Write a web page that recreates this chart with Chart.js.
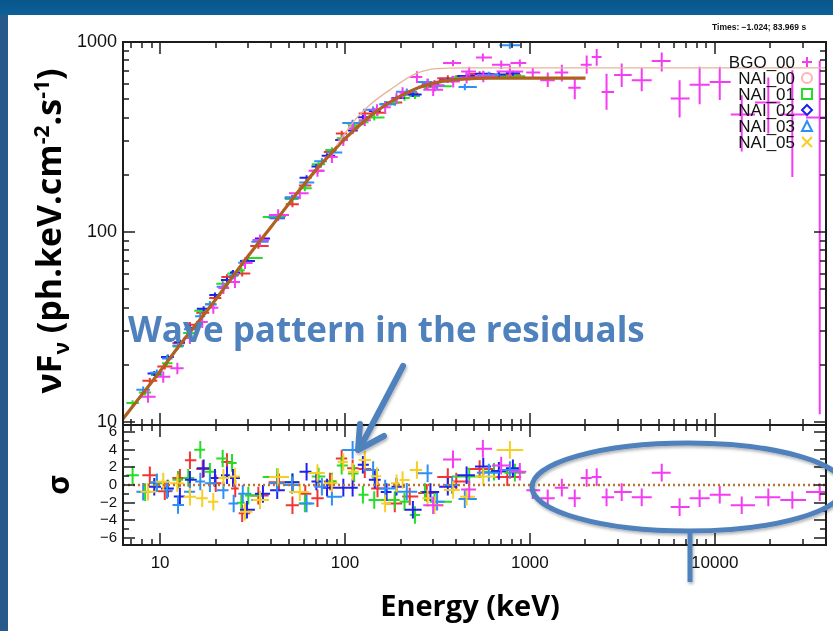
<!DOCTYPE html>
<html>
<head>
<meta charset="utf-8">
<script src="https://cdn.jsdelivr.net/npm/chart.js@4.4.1/dist/chart.umd.min.js"></script>
<style>
  html, body { margin: 0; padding: 0; }
  body { width: 833px; height: 631px; position: relative; overflow: hidden; background: #27598a; }
  #topbar { position: absolute; left: 0; top: 0; width: 833px; height: 15px; background: linear-gradient(#08568c, #0e6099); }
  #sheet { position: absolute; left: 8px; top: 15px; width: 825px; height: 616px; background: #fff; }
  canvas { position: absolute; left: 0; top: 0; }
  .slide { position: absolute; font-family: "Open Sans", Lato, sans-serif; font-weight: bold; white-space: nowrap; line-height: 1; color: #000; }
  .slide sub, .slide sup { font-size: 0.62em; line-height: 0; }
  #ytitle { left: 48px; top: 231px; font-size: 34px; transform: translate(-50%, -50%) rotate(-90deg); }
  #sigma { left: 58px; top: 485px; font-size: 30px; transform: translate(-50%, -50%) rotate(-90deg); }
  #xtitle { left: 470px; top: 590px; font-size: 29px; transform: translateX(-50%); }
  #wave { left: 128px; top: 311px; font-size: 35px; color: #4f81bd; }
  #times { position: absolute; left: 712px; top: 22px; font: bold 8.5px "Liberation Sans", Arial, sans-serif; color: #111; white-space: nowrap; }
  svg { position: absolute; left: 0; top: 0; }
</style>
</head>
<body>
<div id="topbar"></div>
<div id="sheet"></div>
<canvas id="residuals" width="833" height="631"></canvas>
<canvas id="spectrum" width="833" height="631"></canvas>
<div id="times">Times: −1.024; 83.969 s</div>
<div class="slide" id="ytitle">νF<sub>ν</sub> (ph.keV.cm<sup>-2</sup>.s<sup>-1</sup>)</div>
<div class="slide" id="sigma">σ</div>
<div class="slide" id="xtitle">Energy (keV)</div>
<div class="slide" id="wave">Wave pattern in the residuals</div>
<svg width="833" height="631">
  <defs>
    <filter id="soft" x="-20%" y="-20%" width="140%" height="140%">
      <feDropShadow dx="1" dy="2" stdDeviation="1.5" flood-opacity="0.3"/>
    </filter>
  </defs>
  <g stroke="#4f81bd" fill="none" stroke-linecap="round" stroke-linejoin="round" filter="url(#soft)">
    <line x1="403" y1="366" x2="362" y2="444" stroke-width="6"/>
    <polyline points="360,424 358,450 384,436" stroke-width="6"/>
    <ellipse cx="688" cy="487" rx="156" ry="44" stroke-width="5"/>
    <line x1="690" y1="531" x2="690" y2="582" stroke-width="5" stroke-linecap="butt"/>
  </g>
</svg>
<script>
const ENERGY_MIN = 6.3, ENERGY_MAX = 40000;

const fluxTicks = [10, 100, 1000];
const residTicks = [-6, -4, -2, 0, 2, 4, 6];
const energyTicks = [10, 100, 1000, 10000];

// best-fit model (keV, ph.keV.cm-2.s-1)
const modelEnergy = [6.2, 8, 10, 13, 17, 22, 30, 40, 55, 70, 85, 100, 120, 145, 175, 215, 270, 340, 450, 600, 2000];
const modelFlux = [10.2, 14, 18.5, 26, 36, 50, 75, 107, 160, 213, 262, 310, 365, 425, 482, 540, 590, 622, 640, 645, 645];
// second model, the one that keeps going up to the BGO range
const altEnergy = [90, 113, 136, 175, 240, 314, 450, 40000];
const altFlux = [285, 388, 466, 560, 680, 725, 730, 730];

// NaI detectors: channel centres, vFv, residuals in sigma
const nai00Energy = [8.8, 10.6, 12.8, 14.5, 17, 20, 23, 25.5, 27.8, 34, 44, 52, 61, 71, 83, 96, 110, 128, 150, 186, 224, 277, 360, 400, 535, 755];
const nai00Flux = [16.5, 19.6, 26.0, 32.5, 37.6, 45.0, 58.0, 59.5, 60.5, 84.5, 121, 140, 176, 210, 264, 330, 372, 420, 424, 480, 535, 582, 645, 645, 678, 668];
const nai00Resid = [1.1, -0.7, 0.8, 2.8, 1.8, 0.2, 2.6, -0.4, -3.2, -1.2, 0.3, -2.3, -1.0, -1.5, 0.4, 3.0, 1.9, 1.8, -0.4, -2.1, -1.3, -0.9, 0.9, 0.4, 1.8, 0.9];

const nai01Energy = [7.1, 8.3, 9.6, 10.9, 12.5, 14.2, 16.5, 18.6, 21.8, 24.5, 27.5, 30, 43, 52, 60.7, 72, 85, 96, 112, 125, 144, 186, 210, 239, 271, 305, 470, 640, 830];
const nai01Flux = [12.6, 14.3, 17.7, 20.4, 25.0, 29.4, 38.5, 41.8, 53.5, 60.5, 63.0, 73.0, 120, 149, 170, 227, 270, 312, 362, 378, 400, 480, 508, 520, 583, 585, 652, 662, 660];
const nai01Resid = [1.1, -0.8, 0.2, -0.5, 0.6, 0.8, 4.0, 1.5, 3.0, 2.5, -2.0, -1.2, 0.9, 0.3, -2.1, 0.95, 0.4, 2.2, 1.3, -1.1, -1.7, -1.7, -1.9, -3.4, -0.8, -1.9, 0.95, 1.5, 1.4];

const nai02Energy = [9.3, 11, 12.8, 14.5, 17.2, 19.8, 23, 24.8, 29.5, 36, 43, 52, 62, 70, 80, 98, 110, 125, 145, 168, 190, 233, 290, 360, 455, 560, 680, 810];
const nai02Flux = [18.0, 22.0, 26.3, 31.4, 39.5, 46.6, 56.0, 61.2, 70.5, 92.5, 118, 152, 193, 221, 252, 305, 342, 402, 434, 470, 508, 530, 600, 630, 662, 680, 675, 685];
const nai02Resid = [-0.2, -0.4, -1.3, 0.6, 1.9, 0.8, 1.1, 0.8, -2.8, -1.0, -0.6, 0.3, 1.5, 0.4, -0.3, -0.3, -0.3, 2.3, 0.6, -0.8, -0.2, -2.8, -0.8, -0.2, 1.1, 2.1, 1.6, 1.9];

const nai03Energy = [8.1, 9.6, 10.9, 12.5, 14.5, 16.5, 18.6, 22, 25, 28, 34.7, 43, 51.7, 62, 75, 85, 110, 142, 165, 216, 280, 315, 380, 445, 600, 780];
const nai03Flux = [14.8, 18.2, 21.6, 25.2, 30.8, 36.0, 41.6, 51.5, 58.8, 69.0, 89.0, 119, 151, 182, 236, 262, 375, 440, 470, 548, 615, 590, 633, 580, 670, 960];
const nai03Resid = [-0.76, 0.3, -0.57, -2.27, -0.76, 0.4, 0.2, -0.6, -2.1, -1.0, -1.7, 0.2, 0.0, -2.1, -0.2, -1.33, 3.98, 1.7, -0.4, -0.76, 1.33, -1.9, 0.0, -1.6, 1.4, 1.7];

const nai05Energy = [8.6, 10.4, 12.4, 14.5, 16.9, 19.4, 22, 25.4, 28.8, 34.7, 43.5, 57, 71, 85, 98, 110, 128, 149, 165, 190, 205, 245, 280, 305, 385, 455, 560, 780];
const nai05Flux = [13.6, 17.3, 19.2, 27.7, 33.6, 40.0, 50.7, 54.6, 68.7, 90.8, 123, 160, 210, 248, 305, 352, 388, 440, 453, 505, 540, 655, 600, 590, 620, 650, 660, 700];
const nai05Resid = [-0.76, 0.38, 0.2, -1.33, -1.5, -1.9, 0.8, 0.95, -3.03, -1.7, 0.9, -0.8, 1.36, 0.2, 2.6, 1.5, 2.84, 1.0, -2.1, 0.2, 0.57, 1.7, -1.5, -2.3, -0.57, -1.33, 0.95, 3.98];

// BGO detector, with its own (asymmetric) flux errors
const bgoEnergy = [300, 384, 470, 557, 700, 883, 1037, 1250, 1490, 1750, 2030, 2300, 2600, 3140, 4030, 5170, 6460, 8290, 10650, 14000, 19500, 26300, 37000];
const bgoFlux = [560, 775, 700, 830, 760, 775, 690, 630, 690, 575, 760, 835, 545, 670, 630, 795, 505, 595, 615, 415, 480, 415, 400];
const bgoFluxLo = [520, 745, 660, 790, 720, 740, 650, 580, 620, 500, 680, 750, 440, 580, 550, 700, 400, 470, 495, 265, 330, 195, 11];
const bgoFluxHi = [600, 805, 740, 870, 800, 810, 730, 690, 760, 650, 850, 920, 680, 770, 730, 880, 630, 740, 740, 525, 650, 710, 800];
const bgoResid = [-2.3, 2.9, -0.5, 4.1, 2.2, 1.5, -0.6, -1.5, -0.3, -1.5, 0.8, 0.9, -1.4, -0.8, -1.4, 1.4, -2.5, -1.5, -1.1, -2.3, -1.4, -1.7, -0.8];

const MAGENTA = '#f43cf4', RED = '#f23434', GREEN = '#27dc27', BLUE = '#2121ee', SKY = '#2f8ff5', GOLD = '#f6cf22';

const detectors = [
  { energy: nai00Energy, flux: nai00Flux, resid: nai00Resid, specColor: RED, residColor: RED, err: 0.035 },
  { energy: nai01Energy, flux: nai01Flux, resid: nai01Resid, specColor: GREEN, residColor: GREEN, err: 0.035 },
  { energy: nai02Energy, flux: nai02Flux, resid: nai02Resid, specColor: BLUE, residColor: BLUE, err: 0.03 },
  { energy: nai03Energy, flux: nai03Flux, resid: nai03Resid, specColor: SKY, residColor: SKY, err: 0.04 },
  { energy: nai05Energy, flux: nai05Flux, resid: nai05Resid, specColor: MAGENTA, residColor: GOLD, err: 0.07 }
];

const legendRows = [
  { label: 'BGO_00', color: MAGENTA, shape: 'plus' },
  { label: 'NAI_00', color: '#ffb4b4', shape: 'circle' },
  { label: 'NAI_01', color: GREEN, shape: 'square' },
  { label: 'NAI_02', color: BLUE, shape: 'diamond' },
  { label: 'NAI_03', color: SKY, shape: 'triangle' },
  { label: 'NAI_05', color: GOLD, shape: 'cross' }
];

// bin edges sit halfway (in log) between neighbouring channel centres
function binEdges(c) {
  const n = c.length;
  return c.map((e, i) => {
    const prev = i > 0 ? c[i - 1] : e * e / c[1];
    const next = i < n - 1 ? c[i + 1] : e * e / c[n - 2];
    return [Math.sqrt(prev * e), Math.sqrt(e * next)];
  });
}

function specPoints(energy, flux, lo, hi) {
  const edges = binEdges(energy);
  return energy.map((e, i) => ({ x: e, y: flux[i], xlo: edges[i][0], xhi: edges[i][1], ylo: lo[i], yhi: hi[i] }));
}

function residPoints(energy, resid) {
  const edges = binEdges(energy);
  return energy.map((e, i) => ({ x: e, y: resid[i], xlo: edges[i][0], xhi: edges[i][1], ylo: resid[i] - 1, yhi: resid[i] + 1 }));
}

function crossSet(points, color) {
  return { data: points, borderColor: color, crosses: true, pointRadius: 0, showLine: false };
}

// error-bar crosses, drawn under the model curves
const errorCrosses = {
  id: 'errorCrosses',
  beforeDatasetsDraw(chart) {
    const { ctx, chartArea: a } = chart;
    const xs = chart.scales.x, ys = chart.scales.y;
    ctx.save();
    ctx.beginPath();
    ctx.rect(a.left, a.top, a.right - a.left, a.bottom - a.top);
    ctx.clip();
    ctx.lineWidth = 2;
    chart.data.datasets.forEach(ds => {
      if (!ds.crosses) return;
      ctx.strokeStyle = ds.borderColor;
      ctx.beginPath();
      ds.data.forEach(p => {
        const cx = xs.getPixelForValue(p.x), cy = ys.getPixelForValue(p.y);
        ctx.moveTo(xs.getPixelForValue(p.xlo), cy);
        ctx.lineTo(xs.getPixelForValue(p.xhi), cy);
        ctx.moveTo(cx, ys.getPixelForValue(p.ylo));
        ctx.lineTo(cx, ys.getPixelForValue(p.yhi));
      });
      ctx.stroke();
    });
    ctx.restore();
  }
};

// box with inward ticks on all four sides
const idlFrame = {
  id: 'idlFrame',
  afterDatasetsDraw(chart) {
    const { ctx, chartArea: a } = chart;
    const xs = chart.scales.x, ys = chart.scales.y;
    ctx.save();
    ctx.strokeStyle = '#1c1c1c';
    ctx.lineWidth = 1.5;
    ctx.beginPath();
    for (let d = 0; d <= 4; d++) {
      for (let m = 1; m <= 9; m++) {
        const v = m * Math.pow(10, d);
        if (v < xs.min || v > xs.max) continue;
        const px = Math.round(xs.getPixelForValue(v));
        const len = m === 1 ? 12 : 6;
        ctx.moveTo(px, a.top); ctx.lineTo(px, a.top + len);
        ctx.moveTo(px, a.bottom); ctx.lineTo(px, a.bottom - len);
      }
    }
    const marks = [];
    if (ys.type === 'logarithmic') {
      for (let d = 0; d <= 3; d++) for (let m = 1; m <= 9; m++) marks.push([m * Math.pow(10, d), m === 1]);
    } else {
      for (let v = -6; v <= 6; v++) marks.push([v, v % 2 === 0]);
    }
    marks.forEach(([v, major]) => {
      if (v < ys.min || v > ys.max) return;
      const py = Math.round(ys.getPixelForValue(v));
      const len = major ? 12 : 6;
      ctx.moveTo(a.left, py); ctx.lineTo(a.left + len, py);
      ctx.moveTo(a.right, py); ctx.lineTo(a.right - len, py);
    });
    ctx.stroke();
    ctx.lineWidth = 2;
    ctx.strokeRect(a.left, a.top, a.right - a.left, a.bottom - a.top);
    ctx.restore();
  }
};

// detector key in the upper right corner
const detectorKey = {
  id: 'detectorKey',
  afterDraw(chart) {
    const ctx = chart.ctx;
    ctx.save();
    ctx.font = '17px "Liberation Sans", Arial, sans-serif';
    ctx.textAlign = 'right';
    ctx.textBaseline = 'middle';
    ctx.lineWidth = 2;
    legendRows.forEach((row, i) => {
      const y = 62 + i * 16, x = 807, r = 5;
      ctx.fillStyle = '#111';
      ctx.fillText(row.label, 795, y + 1);
      ctx.strokeStyle = row.color;
      ctx.beginPath();
      if (row.shape === 'plus') { ctx.moveTo(x - r, y); ctx.lineTo(x + r, y); ctx.moveTo(x, y - r); ctx.lineTo(x, y + r); }
      if (row.shape === 'circle') { ctx.arc(x, y, r, 0, Math.PI * 2); }
      if (row.shape === 'square') { ctx.rect(x - r, y - r, 2 * r, 2 * r); }
      if (row.shape === 'diamond') { ctx.moveTo(x, y - r); ctx.lineTo(x + r, y); ctx.lineTo(x, y + r); ctx.lineTo(x - r, y); ctx.closePath(); }
      if (row.shape === 'triangle') { ctx.moveTo(x, y - r); ctx.lineTo(x + r, y + r); ctx.lineTo(x - r, y + r); ctx.closePath(); }
      if (row.shape === 'cross') { ctx.moveTo(x - r, y - r); ctx.lineTo(x + r, y + r); ctx.moveTo(x + r, y - r); ctx.lineTo(x - r, y + r); }
      ctx.stroke();
    });
    ctx.restore();
  }
};

const tickFont = { family: '"Liberation Sans", Arial, sans-serif' };
const minusSign = v => String(v).replace('-', '\u2212');

const specSets = detectors.map(d => crossSet(
  specPoints(d.energy, d.flux, d.flux.map(f => f * (1 - d.err)), d.flux.map(f => f * (1 + d.err))), d.specColor));
specSets.push(crossSet(specPoints(bgoEnergy, bgoFlux, bgoFluxLo, bgoFluxHi), MAGENTA));

new Chart(document.getElementById('spectrum'), {
  type: 'scatter',
  data: {
    datasets: [
      ...specSets,
      { data: altEnergy.map((e, i) => ({ x: e, y: altFlux[i] })), showLine: true, pointRadius: 0,
        borderColor: '#e8b39a', borderWidth: 1.3, cubicInterpolationMode: 'monotone' },
      { data: modelEnergy.map((e, i) => ({ x: e, y: modelFlux[i] })), showLine: true, pointRadius: 0,
        borderColor: '#b0601f', borderWidth: 3.2, cubicInterpolationMode: 'monotone' }
    ]
  },
  options: {
    responsive: false, animation: false, events: [],
    layout: { padding: { left: 63, right: 7, top: 42, bottom: 206 } },
    plugins: { legend: { display: false }, tooltip: { enabled: false } },
    scales: {
      x: { type: 'logarithmic', display: false, min: ENERGY_MIN, max: ENERGY_MAX },
      y: {
        type: 'logarithmic', min: 9.65, max: 1000,
        afterFit: s => { s.width = 60; },
        afterBuildTicks: s => { s.ticks = fluxTicks.map(v => ({ value: v })); },
        grid: { display: false, drawTicks: false }, border: { display: false },
        ticks: { autoSkip: false, padding: 6, color: '#111', font: { ...tickFont, size: 18 }, callback: v => String(v) }
      }
    }
  },
  plugins: [errorCrosses, idlFrame, detectorKey]
});

const residSets = detectors.map(d => crossSet(residPoints(d.energy, d.resid), d.residColor));
residSets.push(crossSet(residPoints(bgoEnergy, bgoResid), MAGENTA));

new Chart(document.getElementById('residuals'), {
  type: 'scatter',
  data: {
    datasets: [
      ...residSets,
      { data: [{ x: ENERGY_MIN, y: 0 }, { x: ENERGY_MAX, y: 0 }], showLine: true, pointRadius: 0,
        borderColor: '#c0712c', borderWidth: 2.5, borderDash: [2, 3] }
    ]
  },
  options: {
    responsive: false, animation: false, events: [],
    layout: { padding: { left: 63, right: 7, top: 425, bottom: 56 } },
    plugins: { legend: { display: false }, tooltip: { enabled: false } },
    scales: {
      x: {
        type: 'logarithmic', min: ENERGY_MIN, max: ENERGY_MAX,
        afterFit: s => { s.height = 30; },
        afterBuildTicks: s => { s.ticks = energyTicks.map(v => ({ value: v })); },
        grid: { display: false, drawTicks: false }, border: { display: false },
        ticks: { autoSkip: false, maxRotation: 0, padding: 8, color: '#111', font: { ...tickFont, size: 17 }, callback: v => String(v) }
      },
      y: {
        type: 'linear', min: -6.8, max: 6.8,
        afterFit: s => { s.width = 60; },
        afterBuildTicks: s => { s.ticks = residTicks.map(v => ({ value: v })); },
        grid: { display: false, drawTicks: false }, border: { display: false },
        ticks: { autoSkip: false, padding: 6, color: '#111', font: { ...tickFont, size: 15 }, callback: minusSign }
      }
    }
  },
  plugins: [errorCrosses, idlFrame]
});
</script>
</body>
</html>
